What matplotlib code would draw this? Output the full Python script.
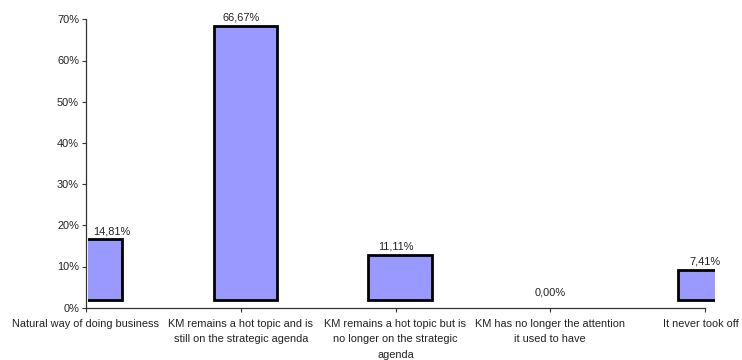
import matplotlib
matplotlib.use("Agg")
import matplotlib.pyplot as plt
from matplotlib.patches import Rectangle
from matplotlib.transforms import offset_copy, Affine2D
from matplotlib.ticker import FuncFormatter

plt.rcParams['font.family'] = ['Liberation Sans', 'DejaVu Sans']

# survey answers: current status of knowledge management
categories = [
    "Natural way of doing business",
    "KM remains a hot topic and is\nstill on the strategic agenda",
    "KM remains a hot topic but is\nno longer on the strategic\nagenda",
    "KM has no longer the attention\nit used to have",
    "It never took off",
]
shares = [14.81, 66.67, 11.11, 0.00, 7.41]
value_labels = ["14,81%", "66,67%", "11,11%", "0,00%", "7,41%"]
yticks = [0, 10, 20, 30, 40, 50, 60, 70]

FS = 7.9

fig = plt.figure(figsize=(7.42, 3.6), dpi=100)
ax = fig.add_axes([86 / 742, 1 - 307.7 / 360, 619 / 742, 288.4 / 360])

x = list(range(len(categories)))

# columns are drawn with a small depth shift (old-style 3D column look)
shifted = offset_copy(ax.transData, fig=fig, x=4.5, y=7.4, units='dots')
bars = ax.bar(x, shares, width=0.41, color='#9999FF', edgecolor='black',
              linewidth=2.0, transform=shifted)
clip = Rectangle((2 / 619, -0.1), 1 + 8 / 619, 1.2, transform=ax.transAxes,
                 facecolor='none', edgecolor='none')
ax.add_patch(clip)
for b, v in zip(bars, shares):
    b.set_clip_path(clip)
    b.set_visible(v > 0)

for i, (v, lab) in enumerate(zip(shares, value_labels)):
    if i == 0:
        ax.annotate(lab, (i, v), xytext=(7, 10.5), textcoords='offset pixels',
                    ha='left', va='bottom', fontsize=FS, color='#222222')
    else:
        ax.annotate(lab, (i, v), xytext=(0, 10.5), textcoords='offset pixels',
                    ha='center', va='bottom', fontsize=FS, color='#222222')

ax.set_xlim(0, len(categories) - 1)
ax.set_ylim(0, 70)
ax.set_yticks(yticks)
ax.yaxis.set_major_formatter(FuncFormatter(lambda v, p: f"{v:.0f}%"))
ax.set_xticks(x)
ax.set_xticklabels(categories, fontsize=FS, linespacing=1.68, color='#222222')
for t in ax.get_yticklabels():
    t.set_fontsize(FS)
    t.set_color('#222222')

ax.tick_params(axis='both', direction='out', length=3, width=0.8, color='#333333')
ax.tick_params(axis='y', pad=2)
ax.tick_params(axis='x', pad=5)
for s in ('top', 'right'):
    ax.spines[s].set_visible(False)
for s in ('left', 'bottom'):
    ax.spines[s].set_color('#333333')
    ax.spines[s].set_linewidth(0.9)

# keep the last category label inside the figure
last = ax.get_xticklabels()[-1]
last.set_transform(last.get_transform() + Affine2D().translate(-4, 0))

fig.savefig('out.png', dpi=100)
